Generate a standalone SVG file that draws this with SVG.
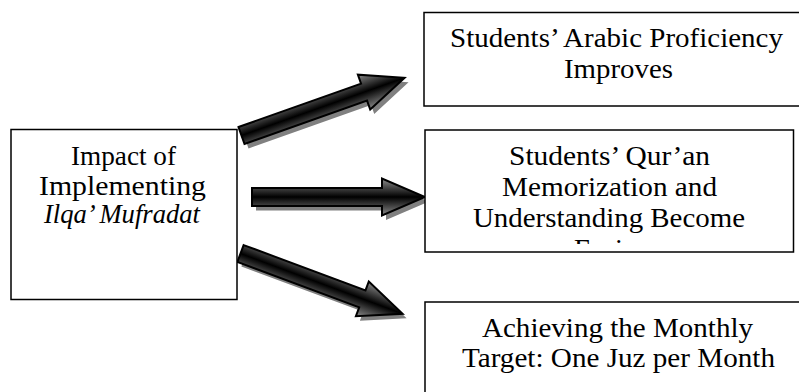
<svg xmlns="http://www.w3.org/2000/svg" width="799" height="392" viewBox="0 0 799 392">
  <style>
    .box { fill: #ffffff; stroke: #000000; stroke-width: 1.5; }
    .label { font-family: "Liberation Serif", "Times New Roman", serif; font-size: 27px; fill: #000000; text-anchor: middle; }
    .it { font-style: italic; }
    .arrow { fill: url(#arrowFill); stroke: #000000; stroke-width: 2; stroke-linejoin: miter; }
    .arrow-shadow { fill: #808080; }
  </style>
  <defs>
    <linearGradient id="arrowFill" x1="0" y1="0" x2="0" y2="1">
      <stop offset="0" stop-color="#8a8a8a"/>
      <stop offset="0.5" stop-color="#000000"/>
      <stop offset="1" stop-color="#8a8a8a"/>
    </linearGradient>
    <!-- block arrow pointing right, tail centre at the origin -->
    <path id="blockArrow" d="M0,-9 L130,-9 L130,-18.5 L173,0 L130,18.5 L130,9 L0,9 Z"/>
    <clipPath id="quranClip">
      <rect x="425" y="130" width="369" height="114"/>
    </clipPath>
  </defs>

  <rect x="0" y="0" width="799" height="392" fill="#ffffff"/>

  <g id="connectors">
    <g transform="translate(241.5,135.5) rotate(-19.5)">
      <use href="#blockArrow" class="arrow-shadow" transform="rotate(19.5) translate(4,4.5) rotate(-19.5)"/>
      <use href="#blockArrow" class="arrow"/>
    </g>
    <g transform="translate(252,197)">
      <use href="#blockArrow" class="arrow-shadow" transform="translate(4,4.5)"/>
      <use href="#blockArrow" class="arrow"/>
    </g>
    <g transform="translate(240.5,253.5) rotate(20.4)">
      <use href="#blockArrow" class="arrow-shadow" transform="rotate(-20.4) translate(4,4.5) rotate(20.4)"/>
      <use href="#blockArrow" class="arrow"/>
    </g>
  </g>

  <g id="node-impact">
    <rect class="box" x="11" y="129.5" width="226" height="170"/>
    <text class="label" x="123.5" y="165" textLength="105" lengthAdjust="spacingAndGlyphs">Impact of</text>
    <text class="label" x="122.5" y="195" textLength="167" lengthAdjust="spacingAndGlyphs">Implementing</text>
    <text class="label it" x="122" y="223" textLength="156" lengthAdjust="spacingAndGlyphs">Ilqa’ Mufradat</text>
  </g>

  <g id="node-arabic">
    <rect class="box" x="424" y="12.5" width="400" height="93.5"/>
    <text class="label" x="616.5" y="47" textLength="333" lengthAdjust="spacingAndGlyphs">Students’ Arabic Proficiency</text>
    <text class="label" x="618.5" y="78" textLength="109" lengthAdjust="spacingAndGlyphs">Improves</text>
  </g>

  <g id="node-quran">
    <rect class="box" x="425" y="130" width="368.5" height="122"/>
    <g clip-path="url(#quranClip)">
      <text class="label" x="609.5" y="165" textLength="201" lengthAdjust="spacingAndGlyphs">Students’ Qur’an</text>
      <text class="label" x="609.5" y="196" textLength="215" lengthAdjust="spacingAndGlyphs">Memorization and</text>
      <text class="label" x="609" y="227" textLength="272" lengthAdjust="spacingAndGlyphs">Understanding Become</text>
      <text class="label" x="609.5" y="258" textLength="71" lengthAdjust="spacingAndGlyphs">Easier</text>
    </g>
  </g>

  <g id="node-target">
    <rect class="box" x="425" y="302" width="400" height="120"/>
    <text class="label" x="617.5" y="337" textLength="271" lengthAdjust="spacingAndGlyphs">Achieving the Monthly</text>
    <text class="label" x="618.5" y="367" textLength="313" lengthAdjust="spacingAndGlyphs">Target: One Juz per Month</text>
  </g>
</svg>
